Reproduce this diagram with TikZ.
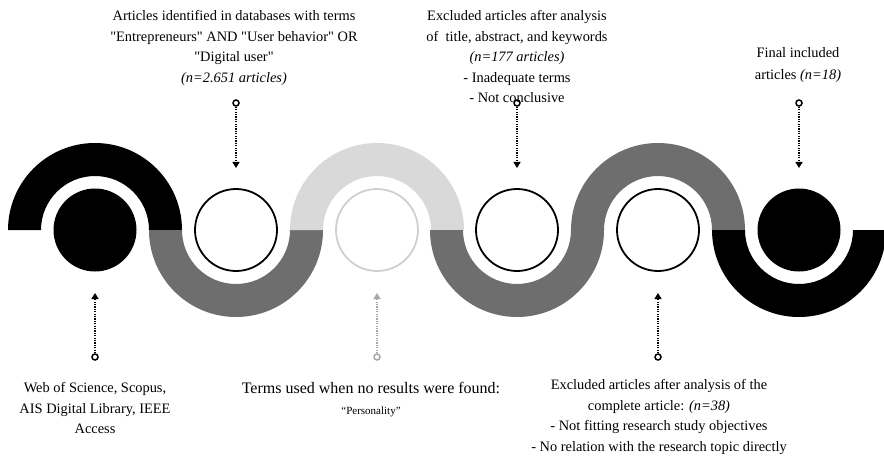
\documentclass[tikz,border=0pt]{standalone}
\usepackage{fontspec}
\setmainfont{Liberation Serif}[Ligatures=TeXOff]
\usetikzlibrary{arrows.meta}
\definecolor{darkband}{HTML}{6E6E6E}
\definecolor{lightband}{HTML}{D9D9D9}
\definecolor{lightring}{HTML}{CFCFCF}
\definecolor{lightarrow}{HTML}{A8A8A8}

\begin{document}
\begin{tikzpicture}[x=1pt,y=1pt,
	ring/.style={circle, draw=black, line width=1.8pt, minimum size=82pt, inner sep=0pt},
	disc/.style={circle, fill=black, minimum size=83pt, inner sep=0pt},
	dotend/.style={circle, draw=black, fill=white, line width=1.5pt, minimum size=6pt, inner sep=0pt},
	conn/.style={line width=1.3pt, dash pattern=on 1.2pt off 1.2pt, -{Triangle[width=7pt,length=6pt]}},
	lbl/.style={align=center, anchor=north, inner sep=0pt, font=\fontsize{14.4}{20.5}\selectfont}]
		\useasboundingbox (0,-228) rectangle (884,230);
		\fill[black] (8,0) arc[start angle=180, end angle=0, radius=87pt] -- (149,0) arc[start angle=0, end angle=180, radius=54pt] -- cycle;
		\fill[darkband] (149,0) arc[start angle=180, end angle=360, radius=87pt] -- (290,0) arc[start angle=360, end angle=180, radius=54pt] -- cycle;
		\fill[lightband] (290,0) arc[start angle=180, end angle=0, radius=87pt] -- (431,0) arc[start angle=0, end angle=180, radius=54pt] -- cycle;
		\fill[darkband] (430,0) arc[start angle=180, end angle=360, radius=87pt] -- (571,0) arc[start angle=360, end angle=180, radius=54pt] -- cycle;
		\fill[darkband] (571,0) arc[start angle=180, end angle=0, radius=87pt] -- (712,0) arc[start angle=0, end angle=180, radius=54pt] -- cycle;
		\fill[black] (712,0) arc[start angle=180, end angle=360, radius=87pt] -- (853,0) arc[start angle=360, end angle=180, radius=54pt] -- cycle;
		\node[disc] (c1) at (95,0) {};
		\node[ring] (c2) at (236,0) {};
		\node[ring, draw=lightring] (c3) at (377,0) {};
		\node[ring] (c4) at (517,0) {};
		\node[ring] (c5) at (658,0) {};
		\node[disc] (c6) at (799,0) {};
		\node[dotend] (d2) at (236,127) {};
		\node[dotend] (d4) at (517,127) {};
		\node[dotend] (d6) at (799,127) {};
		\node[dotend] (d1) at (95,-127) {};
		\node[dotend, draw=lightarrow] (d3) at (377,-127) {};
		\node[dotend] (d5) at (658,-127) {};
		\coordinate (a2) at (236,62);
		\coordinate (a4) at (517,62);
		\coordinate (a6) at (799,62);
		\coordinate (a1) at (95,-63);
		\coordinate (a3) at (377,-63);
		\coordinate (a5) at (658,-63);
		\draw[conn] (d2) -- (a2);
		\draw[conn] (d4) -- (a4);
		\draw[conn] (d6) -- (a6);
		\draw[conn] (d1) -- (a1);
		\draw[conn, lightarrow] (d3) -- (a3);
		\draw[conn] (d5) -- (a5);
		\node[lbl] (t1) at (234,219.5) {Articles identified in databases with terms\\"Entrepreneurs" AND "User behavior" OR\\"Digital user"\\\textit{(n=2.651 articles)}};
		\node[lbl] (t2) at (517,219.5) {Excluded articles after analysis\\of~ title, abstract, and keywords\\\textit{(n=177 articles)}\\- Inadequate terms\\- Not conclusive};
		\node[lbl, font=\fontsize{14.4}{22}\selectfont] (t3) at (798,182.5) {Final included\\articles \textit{(n=18)}};
		\node[lbl] (b1) at (95,-152.5) {Web of Science, Scopus,\\AIS Digital Library, IEEE\\Access};
		\node[lbl, font=\fontsize{16}{21}\selectfont] (b2) at (371,-152) {Terms used when no results were found:\\{\fontsize{11}{13}\selectfont “Personality”}};
		\node[lbl] (b3) at (659,-149.5) {Excluded articles after analysis of the\\complete article: \textit{(n=38)}\\- Not fitting research study objectives\\- No relation with the research topic directly};
\end{tikzpicture}
\end{document}
